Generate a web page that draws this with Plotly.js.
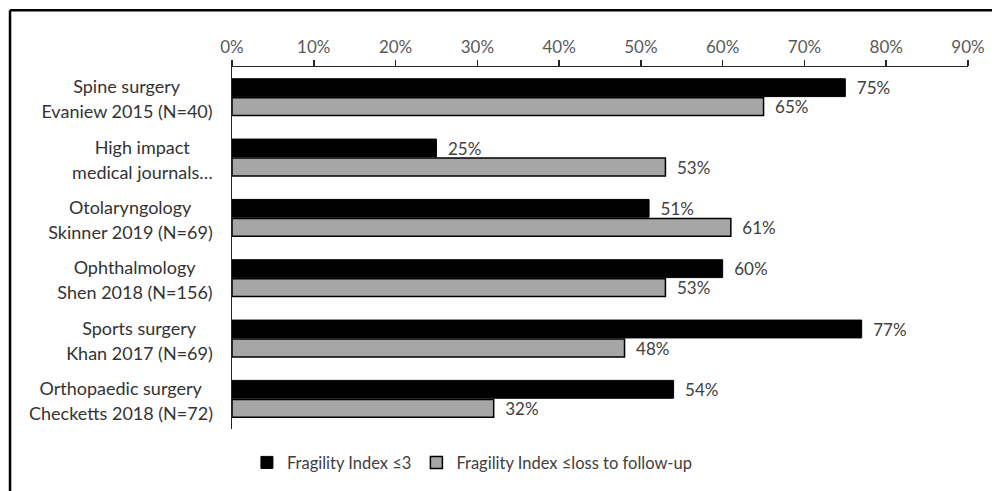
<!DOCTYPE html>
<html>
<head>
<meta charset="utf-8">
<script src="https://cdn.plot.ly/plotly-3.0.1.min.js"></script>
<style>html,body{margin:0;padding:0;background:#fff;}#chart{width:992px;height:491px;}</style>
</head>
<body>
<div id="chart"></div>
<script>
const categories = [
  "Spine surgery<br>Evaniew 2015 (N=40)",
  "High impact<br>medical journals…",
  "Otolaryngology<br>Skinner 2019 (N=69)",
  "Ophthalmology<br>Shen 2018 (N=156)",
  "Sports surgery<br>Khan 2017 (N=69)",
  "Orthopaedic surgery<br>Checketts 2018 (N=72)"
];
const fiLe3 = [0.75, 0.25, 0.51, 0.60, 0.77, 0.54];
const fiLeLoss = [0.65, 0.53, 0.61, 0.53, 0.48, 0.32];
const seriesNames = ["Fragility Index ≤3", "Fragility Index ≤loss to follow-up"];
const tickVals = [0, 0.1, 0.2, 0.3, 0.4, 0.5, 0.6, 0.7, 0.8, 0.9];

const FONT = "Lato, 'Open Sans', sans-serif";
const LABEL_SIZE = 18;

const traces = [
  {
    type: "bar", orientation: "h", name: seriesNames[0],
    y: categories, x: fiLe3,
    marker: {color: "#000000", line: {color: "#000000", width: 1}},
    texttemplate: "\u2002%{x:.0%}", textposition: "outside", constraintext: "none",
    cliponaxis: false, textfont: {family: FONT, size: 17, color: "#404040"},
    hoverinfo: "skip"
  },
  {
    type: "bar", orientation: "h", name: seriesNames[1],
    y: categories, x: fiLeLoss,
    marker: {color: "#a6a6a6", line: {color: "#000000", width: 1.5}},
    texttemplate: "\u2002%{x:.0%}", textposition: "outside", constraintext: "none",
    cliponaxis: false, textfont: {family: FONT, size: 17, color: "#404040"},
    hoverinfo: "skip"
  }
];

// measure text so both lines of a category label can be centred on each other
const ctx = document.createElement("canvas").getContext("2d");
ctx.font = LABEL_SIZE + "px Lato";
const annotations = [];
categories.forEach(c => {
  const lines = c.split("<br>");
  const w = Math.ceil(Math.max(...lines.map(s => ctx.measureText(s).width))) + 2;
  const shifts = [11, -14];
  lines.forEach((s, i) => {
    annotations.push({
      xref: "paper", yref: "y", x: 0, y: c, xanchor: "right", yanchor: "middle",
      xshift: -16, yshift: shifts[i], width: w, text: s, align: "center", showarrow: false,
      font: {family: FONT, size: LABEL_SIZE, color: "#333333"}
    });
  });
});

const layout = {
  width: 992, height: 491,
  margin: {l: 232, r: 24, t: 67, b: 61},
  paper_bgcolor: "#ffffff", plot_bgcolor: "#ffffff",
  font: {family: FONT, color: "#404040"},
  barmode: "group", bargap: 0.37, bargroupgap: 0.06,
  showlegend: true,
  legend: {orientation: "h", x: 0.326, xanchor: "center", y: -0.09, yanchor: "middle",
           font: {family: FONT, size: 16.5, color: "#404040"}, traceorder: "normal"},
  xaxis: {
    side: "top", range: [0, 0.9], tickvals: tickVals, tickformat: ".0%",
    showgrid: false, zeroline: false, showline: true, linecolor: "#262626", linewidth: 1.5,
    ticks: "outside", ticklen: 6, tickwidth: 1.5, tickcolor: "#262626",
    tickfont: {family: FONT, size: 17, color: "#595959"}, fixedrange: true
  },
  yaxis: {
    type: "category", autorange: "reversed", showticklabels: false,
    showgrid: false, zeroline: false, showline: true, linecolor: "#262626", linewidth: 1.5,
    ticks: "", fixedrange: true
  },
  annotations: annotations,
  shapes: [
    {type: "line", xref: "paper", yref: "paper", x0: -0.3016, x1: 1.04, y0: 1.157, y1: 1.157,
     line: {color: "#000000", width: 2.5}},
    {type: "line", xref: "paper", yref: "paper", x0: -0.3016, x1: -0.3016, y0: 1.157, y1: -0.2,
     line: {color: "#000000", width: 2.5}}
  ]
};

Plotly.newPlot("chart", traces, layout, {displayModeBar: false, staticPlot: true});
</script>
</body>
</html>
